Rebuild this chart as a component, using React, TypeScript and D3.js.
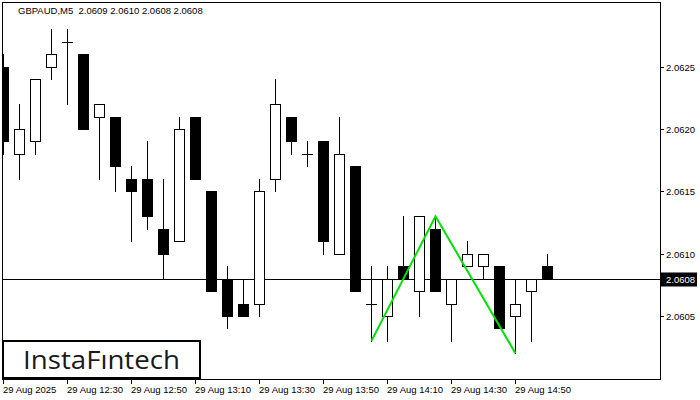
import { useEffect, useRef } from "react";
import * as d3 from "d3";

// GBPAUD M5 candles, 12:10 .. 15:00
const opens = [2.0625, 2.0618, 2.0619, 2.0625, 2.0627, 2.0626, 2.0621, 2.0621, 2.0616, 2.0616, 2.0612, 2.0611, 2.0621, 2.0615, 2.0608, 2.0606, 2.0606, 2.0616, 2.0621, 2.0618, 2.0619, 2.0610, 2.0617, 2.0606, 2.0605, 2.0609, 2.0607, 2.0612, 2.0606, 2.0609, 2.0609, 2.0609, 2.0605, 2.0607, 2.0609];
const highs = [2.0626, 2.0622, 2.0624, 2.0628, 2.0628, 2.0626, 2.0622, 2.0621, 2.0617, 2.0619, 2.0616, 2.0621, 2.0621, 2.0615, 2.0609, 2.0608, 2.0616, 2.0624, 2.0621, 2.0619, 2.0619, 2.0621, 2.0617, 2.0609, 2.0609, 2.0613, 2.0613, 2.0613, 2.0608, 2.0611, 2.0610, 2.0609, 2.0608, 2.0608, 2.0610];
const lows = [2.0618, 2.0616, 2.0618, 2.0624, 2.0622, 2.0620, 2.0616, 2.0615, 2.0611, 2.0612, 2.0608, 2.0611, 2.0616, 2.0607, 2.0604, 2.0605, 2.0605, 2.0615, 2.0618, 2.0617, 2.0610, 2.0610, 2.0607, 2.0603, 2.0603, 2.0608, 2.0605, 2.0607, 2.0603, 2.0609, 2.0608, 2.0604, 2.0602, 2.0603, 2.0608];
const closes = [2.0619, 2.0620, 2.0624, 2.0626, 2.0627, 2.0620, 2.0622, 2.0617, 2.0615, 2.0613, 2.0610, 2.0620, 2.0616, 2.0607, 2.0605, 2.0605, 2.0615, 2.0622, 2.0619, 2.0618, 2.0611, 2.0618, 2.0607, 2.0606, 2.0608, 2.0608, 2.0613, 2.0607, 2.0608, 2.0610, 2.0610, 2.0604, 2.0606, 2.0608, 2.0608];

const timeLabels = ["29 Aug 2025", "29 Aug 12:30", "29 Aug 12:50", "29 Aug 13:10", "29 Aug 13:30", "29 Aug 13:50", "29 Aug 14:10", "29 Aug 14:30", "29 Aug 14:50"];
const timeLabelIdx = [0, 4, 8, 12, 16, 20, 24, 28, 32];
const priceTicks = [2.0605, 2.0610, 2.0615, 2.0620, 2.0625];
const lastPrice = 2.0608;

// double bottom pattern
const patternIdx = [23, 27, 32];
const patternPrice = [2.0603, 2.0613, 2.0602];

const title = "GBPAUD,M5  2.0609 2.0610 2.0608 2.0608";

export default function App() {
  const svgRef = useRef<SVGSVGElement | null>(null);

  useEffect(() => {
    if (!svgRef.current) return;
    const width = 700;
    const height = 400;
    const left = 2, right = 660, top = 2, bottom = 379;
    const font = "'Liberation Sans', Arial, sans-serif";

    const svg = d3.select(svgRef.current);
    svg.selectAll("*").remove();

    svg.append("rect").attr("width", width).attr("height", height).attr("fill", "#fff");

    const x = d3.scaleLinear().domain([0, 34]).range([3, 547]);
    const y = d3.scaleLinear().domain([2.06, 2.063]).range([378.3, 4.4]);
    const py = (v: number) => Math.round(y(v));

    const plot = svg.append("g");
    plot.append("defs").append("clipPath").attr("id", "clip")
      .append("rect").attr("x", left).attr("y", top).attr("width", right - left).attr("height", bottom - top);
    const g = plot.append("g").attr("clip-path", "url(#clip)");

    // current price line
    g.append("line")
      .attr("x1", left).attr("x2", right)
      .attr("y1", py(lastPrice) + 0.5).attr("y2", py(lastPrice) + 0.5)
      .attr("stroke", "#000").attr("stroke-width", 1);

    const idx = d3.range(opens.length);
    const candles = g.selectAll("g.c").data(idx).join("g").attr("class", "c");

    candles.append("line")
      .attr("x1", (i) => Math.round(x(i)) + 0.5)
      .attr("x2", (i) => Math.round(x(i)) + 0.5)
      .attr("y1", (i) => py(highs[i]))
      .attr("y2", (i) => py(lows[i]) + 1)
      .attr("stroke", "#000");

    candles.each(function (i) {
      const sel = d3.select(this);
      const cx = Math.round(x(i));
      const o = opens[i], c = closes[i];
      if (o === c) {
        sel.append("line")
          .attr("x1", cx - 5).attr("x2", cx + 6)
          .attr("y1", py(o) + 0.5).attr("y2", py(o) + 0.5)
          .attr("stroke", "#000");
        return;
      }
      const t = py(Math.max(o, c));
      const b = py(Math.min(o, c));
      if (c > o) {
        sel.append("rect")
          .attr("x", cx - 4.5).attr("y", t + 0.5)
          .attr("width", 10).attr("height", b - t)
          .attr("fill", "#fff").attr("stroke", "#000");
      } else {
        sel.append("rect")
          .attr("x", cx - 5).attr("y", t)
          .attr("width", 11).attr("height", b - t + 1)
          .attr("fill", "#000");
      }
    });

    // pattern
    g.append("path")
      .datum(patternIdx.map((k, j) => [x(k) + 0.5, y(patternPrice[j])] as [number, number]))
      .attr("fill", "none")
      .attr("stroke", "#00e000")
      .attr("stroke-width", 2)
      .attr("d", d3.line());

    // frame
    svg.append("rect")
      .attr("x", left + 0.5).attr("y", top + 0.5)
      .attr("width", right - left).attr("height", bottom - top)
      .attr("fill", "none").attr("stroke", "#000");

    // price axis
    priceTicks.forEach((p) => {
      const yy = py(p) + 0.5;
      svg.append("line").attr("x1", right).attr("x2", right + 4)
        .attr("y1", yy).attr("y2", yy).attr("stroke", "#000");
      svg.append("text").attr("x", right + 6).attr("y", yy + 3.5)
        .attr("font-family", font).attr("font-size", 9.5).attr("fill", "#000")
        .text(d3.format(".4f")(p));
    });
    const ly = py(lastPrice) + 0.5;
    svg.append("rect").attr("x", right + 1).attr("y", ly - 7).attr("width", 36).attr("height", 14).attr("fill", "#000");
    svg.append("text").attr("x", right + 6).attr("y", ly + 3.5)
      .attr("font-family", font).attr("font-size", 9.5).attr("fill", "#fff")
      .text(d3.format(".4f")(lastPrice));

    // time axis
    timeLabelIdx.forEach((k, j) => {
      const xx = Math.round(x(k)) + 0.5;
      svg.append("line").attr("x1", xx).attr("x2", xx)
        .attr("y1", bottom).attr("y2", bottom + 5).attr("stroke", "#000");
      svg.append("text").attr("x", xx - 0.5).attr("y", 393)
        .attr("font-family", font).attr("font-size", 9.5).attr("fill", "#000")
        .text(timeLabels[j]);
    });

    // title
    svg.append("text").attr("x", 18).attr("y", 14)
      .attr("font-family", font).attr("font-size", 9.5).attr("fill", "#000")
      .attr("xml:space", "preserve").style("white-space", "pre")
      .text(title);

    // logo
    svg.append("rect").attr("x", 3).attr("y", 341).attr("width", 197).attr("height", 37)
      .attr("fill", "#fff").attr("stroke", "#000").attr("stroke-width", 2);
    svg.append("text").attr("x", 23).attr("y", 368.5)
      .attr("font-family", "'Open Sans', sans-serif").attr("font-size", 26)
      .attr("fill", "#1a1a1a").attr("textLength", 157).attr("lengthAdjust", "spacingAndGlyphs")
      .text("InstaFıntech");
  }, []);

  return (
    <svg
      ref={svgRef}
      width={700}
      height={400}
      style={{ position: "absolute", left: 0, top: 0, display: "block" }}
    />
  );
}
